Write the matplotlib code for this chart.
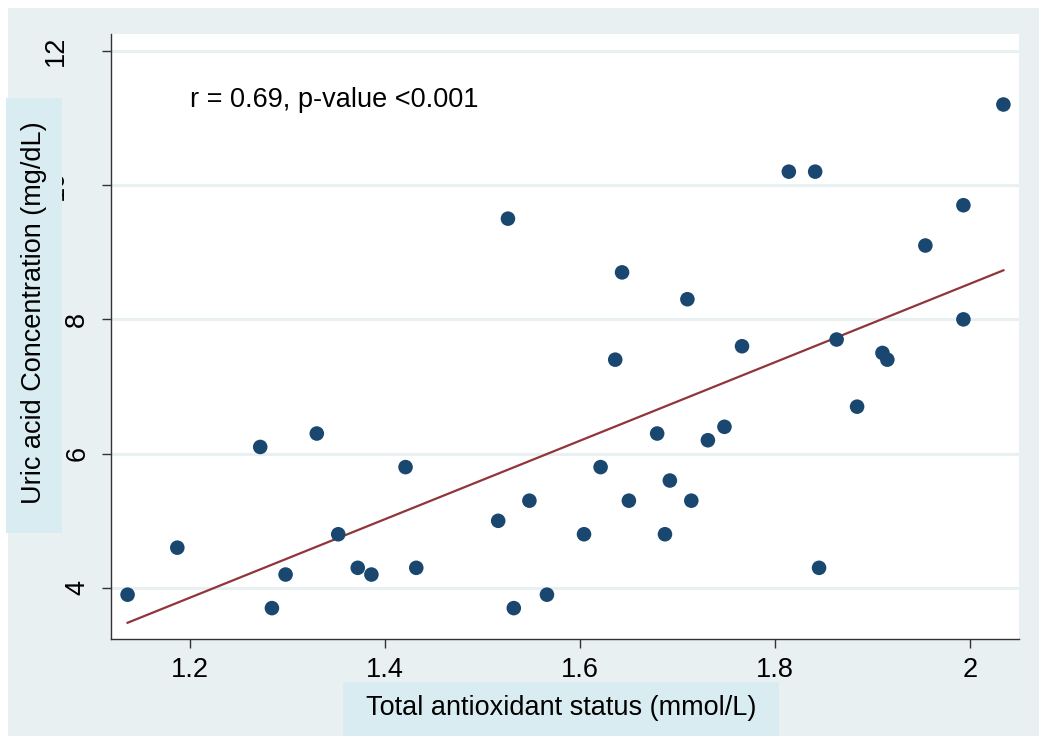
import numpy as np
import matplotlib.pyplot as plt
from matplotlib.patches import Rectangle
from matplotlib.transforms import ScaledTranslation

plt.rcParams['font.family'] = ['Liberation Sans', 'DejaVu Sans']

# total antioxidant status (mmol/L) and uric acid (mg/dL)
tas = [1.136, 1.187, 1.272, 1.284, 1.298, 1.330, 1.352, 1.372, 1.386, 1.421,
       1.432, 1.516, 1.526, 1.532, 1.548, 1.566, 1.604, 1.621, 1.636, 1.643,
       1.650, 1.679, 1.687, 1.692, 1.710, 1.714, 1.731, 1.748, 1.766, 1.814,
       1.841, 1.845, 1.863, 1.884, 1.910, 1.915, 1.954, 1.993, 1.993, 2.034]
uric = [3.9, 4.6, 6.1, 3.7, 4.2, 6.3, 4.8, 4.3, 4.2, 5.8,
        4.3, 5.0, 9.5, 3.7, 5.3, 3.9, 4.8, 5.8, 7.4, 8.7,
        5.3, 6.3, 4.8, 5.6, 8.3, 5.3, 6.2, 6.4, 7.6, 10.2,
        10.2, 4.3, 7.7, 6.7, 7.5, 7.4, 9.1, 9.7, 8.0, 11.2]
xticks = [1.2, 1.4, 1.6, 1.8, 2.0]
xticklabels = ['1.2', '1.4', '1.6', '1.8', '2']
yticks = [4, 6, 8, 10, 12]
stats_text = 'r = 0.69, p-value <0.001'

W, H = 1039, 736
outer_bg = '#e8f0f2'
label_bg = '#d9ecf2'
navy = '#1a476f'
maroon = '#90353b'
fs = 19.5

fig = plt.figure(figsize=(W / 100, H / 100), dpi=100, facecolor='white')


def px_rect(x0, y0, x1, y1, color, z):
    fig.patches.append(Rectangle((x0 / W, 1 - y1 / H), (x1 - x0) / W, (y1 - y0) / H,
                                 transform=fig.transFigure, facecolor=color,
                                 edgecolor='none', zorder=z))


# outer graph region
px_rect(8, 8, W, H, outer_bg, -10)

ax = fig.add_axes([111 / W, (H - 639) / H, (1019 - 111) / W, (639 - 34) / H])
ax.set_facecolor('white')
ax.set_xlim(1.119, 2.050)
ax.set_ylim(3.24, 12.25)

for s in ['top', 'right']:
    ax.spines[s].set_visible(False)
for s in ['left', 'bottom']:
    ax.spines[s].set_color('#333333')
    ax.spines[s].set_linewidth(1.0)

ax.set_xticks(xticks)
ax.set_xticklabels(xticklabels)
ax.set_yticks(yticks)
ax.set_yticklabels([str(v) for v in yticks], rotation=90, va='center')
ax.tick_params(axis='both', direction='out', length=6.5, width=1.0,
               color='#333333', labelsize=fs, labelcolor='black')
ax.tick_params(axis='y', pad=8.5)
ax.tick_params(axis='x', pad=6.5)

ax.grid(axis='y', color=outer_bg, linewidth=2.2)
ax.set_axisbelow(True)

# linear fit across the observed range
slope, intercept = np.polyfit(tas, uric, 1)
xfit = np.array([min(tas), max(tas)])
ax.plot(xfit, slope * xfit + intercept, color=maroon, linewidth=1.6, zorder=2)

ax.scatter(tas, uric, s=110, color=navy, edgecolors='none', zorder=3)

ax.text(1.2, 11.27, stats_text, fontsize=fs, ha='left', va='center')

# two-digit labels sit further out
for lab in ax.get_yticklabels():
    if len(lab.get_text()) > 1:
        lab.set_transform(lab.get_transform() +
                          ScaledTranslation(-0.21, 0, fig.dpi_scale_trans))

# axis title boxes
px_rect(6, 98, 62, 533, label_bg, 5)
fig.text(34 / W, 1 - 313 / H, 'Uric acid Concentration (mg/dL)', rotation=90,
         ha='center', va='center', fontsize=fs, zorder=6)
px_rect(343, 682, 779, H, label_bg, 5)
fig.text(561 / W, 1 - 708 / H, 'Total antioxidant status (mmol/L)',
         ha='center', va='center', fontsize=fs, zorder=6)

fig.savefig('out.png', dpi=100, facecolor='white')
